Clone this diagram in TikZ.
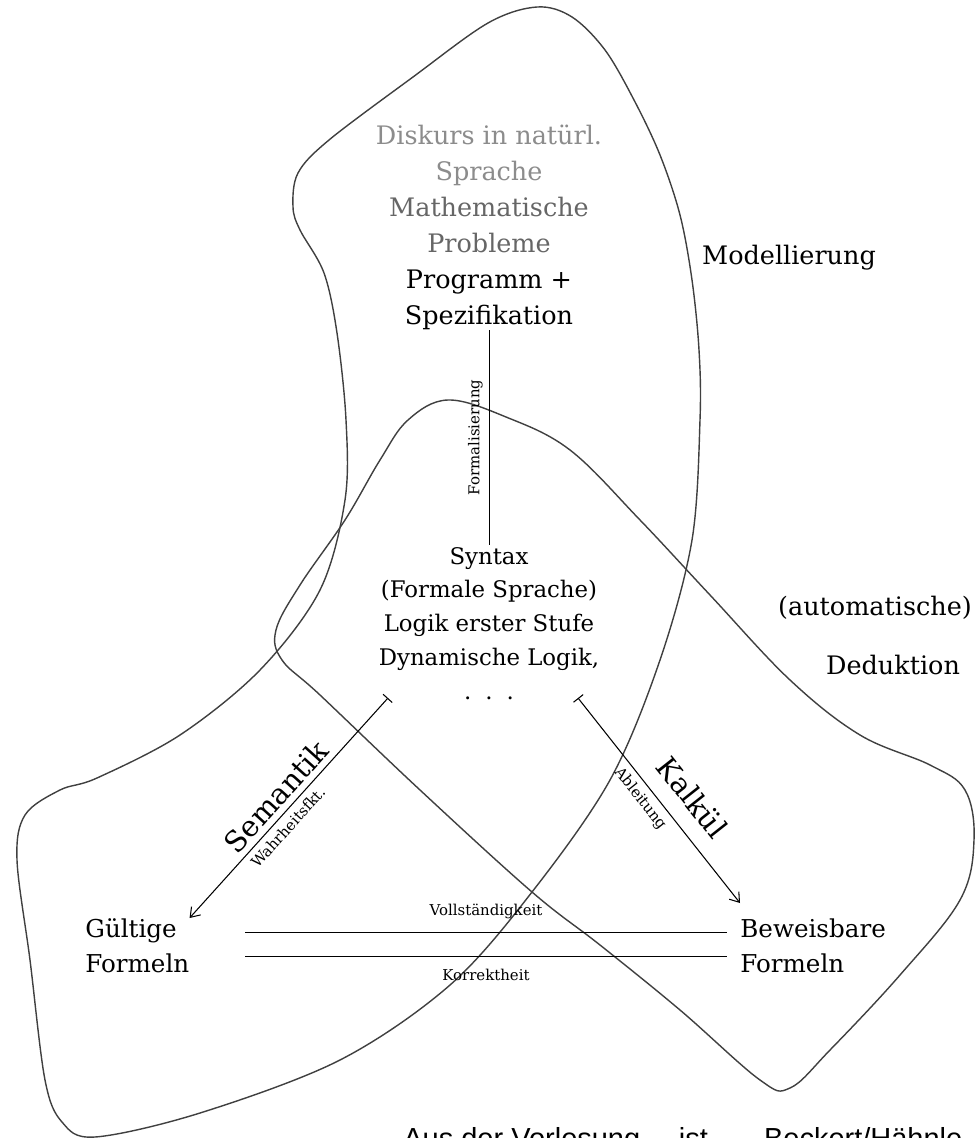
\documentclass[tikz,border=0pt]{standalone}
\usepackage{fontspec}
\setmainfont{DejaVu Serif}
\newfontfamily\captionfont{Liberation Sans}
\usetikzlibrary{positioning,arrows.meta}

\definecolor{lightgrey}{gray}{0.55}
\definecolor{midgrey}{gray}{0.4}

\tikzset{
  bigtext/.style={font=\fontsize{14.5}{20.5}\selectfont, align=center, inner sep=0pt},
  syntext/.style={font=\fontsize{13}{19.3}\selectfont, align=center, inner sep=1pt},
  formtext/.style={font=\fontsize{14}{20}\selectfont, align=left, inner sep=0pt},
  smalllabel/.style={font=\fontsize{8.5}{10}\selectfont},
  arrowlabel/.style={font=\fontsize{16.5}{18}\selectfont},
  blob/.style={draw=black!75, line width=0.8pt},
  maparrow/.style={{Bar[width=7pt]}-{Straight Barb[length=5pt,width=7pt]}, line width=0.6pt},
}

\begin{document}
\begin{tikzpicture}[x=0.02cm, y=-0.02cm]
  \useasboundingbox (0,0) rectangle (976,1138);

  % regions
  \draw [blob] plot [smooth cycle, tension=0.55] coordinates {
    (298,173) (329,140) (413,77) (488,23) (537,7) (572,17) (605,50)
    (634,100) (660,155) (680,215) (692,280) (699,350) (700,420) (692,540)
    (660,660) (610,780) (532,892) (450,985) (340,1060) (200,1113) (95,1137)
    (62,1122) (45,1080) (30,960) (17,860) (25,815) (60,790) (97,778)
    (180,735) (260,670) (320,590) (345,500) (346,420) (337,333) (324,273)
    (300,230) (293,207)};
  \draw [blob] plot [smooth cycle, tension=0.6] coordinates {
    (448,400) (506,417) (570,450) (640,520) (710,595) (790,680) (860,735)
    (930,765) (965,790) (974,840) (960,900) (900,975) (830,1050) (790,1088)
    (760,1080) (680,1010) (600,945) (532,892) (420,790) (320,695) (282,660)
    (276,630) (300,585) (345,520) (380,460) (408,420)};

  % texts
  \node (modell) [bigtext, anchor=south] at (489,330)
    {\textcolor{lightgrey}{Diskurs in natürl.}\\
     \textcolor{lightgrey}{Sprache}\\
     \textcolor{midgrey}{Mathematische}\\
     \textcolor{midgrey}{Probleme}\\
     Programm +\\Spezifikation};
  \node (syntax) [syntext, anchor=north] at (489,545)
    {Syntax\\(Formale Sprache)\\Logik erster Stufe\\Dynamische Logik,\\
     .\hspace{8pt}.\hspace{8pt}.};
  \node (gueltig) [formtext, anchor=north west] at (85,918) {Gültige\\Formeln};
  \node (beweis) [formtext, anchor=north west] at (740,918) {Beweisbare\\Formeln};
  \node (modlabel) [bigtext] at (789,258) {Modellierung};
  \node (autolabel) [bigtext] at (875,608) {(automatische)};
  \node (dedlabel) [bigtext] at (893,665) {Deduktion};

  \coordinate (semstart) at (388,698);
  \coordinate (kalkstart) at (578,698);
  \coordinate (voll-l) at (245,932);
  \coordinate (voll-r) at (727,932);
  \coordinate (korr-l) at (245,956);
  \coordinate (korr-r) at (727,956);

  % connectors
  \draw (modell) -- node [smalllabel, rotate=90, above] {Formalisierung} (syntax);
  \draw [maparrow] (semstart) -- node [arrowlabel, sloped, above=2pt, inner sep=1pt] {Semantik}
    node [smalllabel, sloped, below, pos=0.55] {Wahrheitsfkt.}
    (gueltig.north east);
  \draw [maparrow] (kalkstart) -- node [arrowlabel, sloped, above=6pt, pos=0.57] {Kalkül}
    node [smalllabel, sloped, below, pos=0.45] {Ableitung}
    ([yshift=0.3cm]beweis.north west);
  \draw (voll-l) -- node [smalllabel, above=4pt] {Vollständigkeit} (voll-r);
  \draw (korr-l) -- node [smalllabel, below=4pt] {Korrektheit} (korr-r);

  \node (caption) [font=\captionfont\fontsize{16.5}{18}\selectfont, anchor=base west, inner sep=0pt]
    at (403,1148) {Aus der Vorlesung\hspace{22pt}ist\hspace{32pt}Beckert/Hähnle};
\end{tikzpicture}
\end{document}
